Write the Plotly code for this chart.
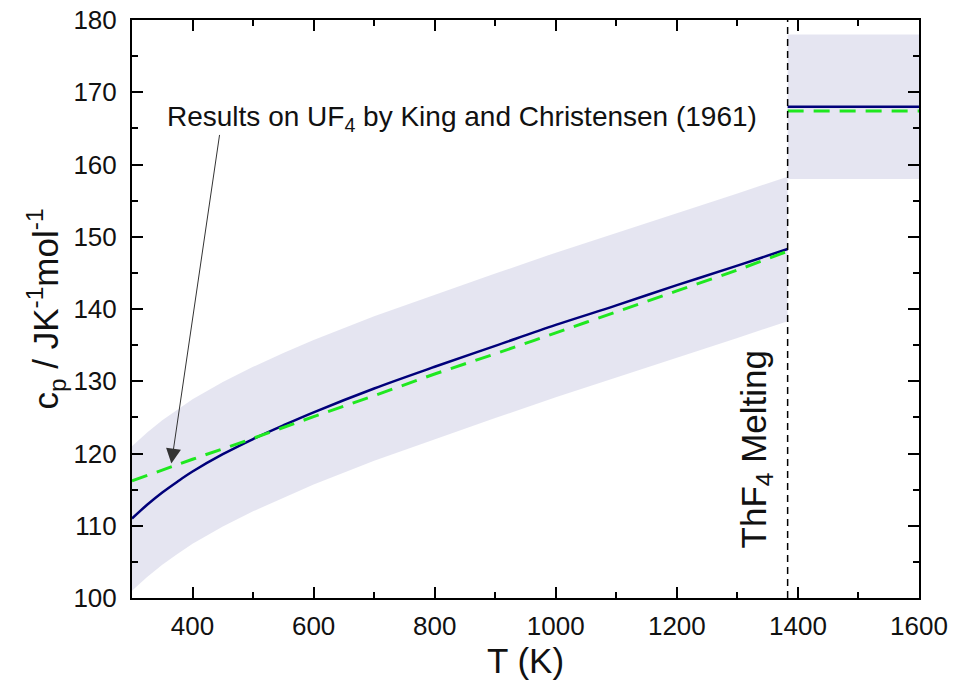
import plotly.graph_objects as go

# solid phase: assessed cp (solid navy) and comparison (green dashed)
T_solid = [300, 325, 350, 375, 400, 450, 500, 550, 600, 700, 800, 900, 1000, 1100, 1200, 1300, 1383]
cp_solid = [111.0, 112.9, 114.6, 116.1, 117.5, 119.9, 122.0, 123.9, 125.7, 129.0, 132.0, 134.9, 137.8, 140.5, 143.3, 146.0, 148.3]

T_solid_cmp = [300, 400, 500, 600, 700, 800, 900, 1000, 1100, 1200, 1300, 1383]
cp_solid_cmp = [116.2, 119.2, 122.1, 125.1, 128.0, 131.0, 133.8, 136.7, 139.6, 142.5, 145.4, 148.0]

# liquid phase
T_liquid = [1383, 1600]
cp_liquid = [168.0, 168.0]
cp_liquid_cmp = [167.4, 167.4]

cp_uncertainty = 10  # +/- band width
T_melt = 1383

FONT = "Arial, Liberation Sans, sans-serif"
BAND = "rgba(226,226,240,0.9)"
NAVY = "#00007a"
GREEN = "#1fe81f"


def band(xs, ys):
    upper = [y + cp_uncertainty for y in ys]
    lower = [y - cp_uncertainty for y in ys]
    return go.Scatter(
        x=xs + xs[::-1], y=upper + lower[::-1],
        fill="toself", fillcolor=BAND, line=dict(width=0),
        mode="lines", hoverinfo="skip", showlegend=False,
    )


fig = go.Figure()
fig.add_trace(band(T_solid, cp_solid))
fig.add_trace(band(T_liquid, cp_liquid))

fig.add_trace(go.Scatter(x=T_solid, y=cp_solid, mode="lines", line_shape="spline",
                         line=dict(color=NAVY, width=2.5), showlegend=False))
fig.add_trace(go.Scatter(x=T_solid_cmp, y=cp_solid_cmp, mode="lines", line_shape="spline",
                         line=dict(color=GREEN, width=3, dash="16px,10px"), showlegend=False))
fig.add_trace(go.Scatter(x=T_liquid, y=cp_liquid, mode="lines",
                         line=dict(color=NAVY, width=2.5), showlegend=False))
fig.add_trace(go.Scatter(x=T_liquid, y=cp_liquid_cmp, mode="lines",
                         line=dict(color=GREEN, width=3, dash="16px,10px"), showlegend=False))

# melting point marker
fig.add_shape(type="line", x0=T_melt, x1=T_melt, y0=0, y1=1, xref="x", yref="paper",
              line=dict(color="black", width=1.5, dash="7px,5px"), layer="above")

fig.add_annotation(x=1330, y=120.5, xref="x", yref="y", text="ThF<sub>4</sub> Melting",
                   textangle=-90, showarrow=False, font=dict(family=FONT, size=35, color="#111"))

fig.add_annotation(x=845, y=166.3, xref="x", yref="y",
                   text="Results on UF<sub>4</sub> by King and Christensen (1961)",
                   showarrow=False, font=dict(family=FONT, size=28, color="#111"))
fig.add_annotation(x=365, y=118.6, ax=445, ay=164.3, xref="x", yref="y", axref="x", ayref="y",
                   text="", showarrow=True, arrowhead=2, arrowsize=3, arrowwidth=1,
                   arrowcolor="#333")

axis_common = dict(
    showline=True, linewidth=2, linecolor="black", mirror="allticks",
    ticks="inside", ticklen=11, tickwidth=2, tickcolor="black",
    showgrid=False, zeroline=False, automargin=False,
    tickfont=dict(family=FONT, size=26, color="#111"),
)

fig.update_xaxes(range=[300, 1600], tick0=0, dtick=200,
                 minor=dict(dtick=100, ticks="inside", ticklen=6, tickwidth=2, tickcolor="black"),
                 ticklabelstandoff=4,
                 title=dict(text="T (K)", font=dict(family=FONT, size=35, color="#111"), standoff=8),
                 **axis_common)
fig.update_yaxes(range=[100, 180], dtick=10,
                 minor=dict(dtick=5, ticks="inside", ticklen=6, tickwidth=2, tickcolor="black"),
                 ticklabelstandoff=8,
                 title=dict(text="c<sub>p</sub> / JK<sup>-1</sup>mol<sup>-1</sup>",
                            font=dict(family=FONT, size=35, color="#111"), standoff=4),
                 **axis_common)

fig.update_layout(
    width=953, height=688,
    margin=dict(l=132, r=34, t=20, b=90),
    plot_bgcolor="white", paper_bgcolor="white",
    showlegend=False,
)

# drop the default body margin so the figure sits flush in the window
fig.write_html("out.html", config={"displayModeBar": False},
               post_script="document.body.style.margin='0';")
